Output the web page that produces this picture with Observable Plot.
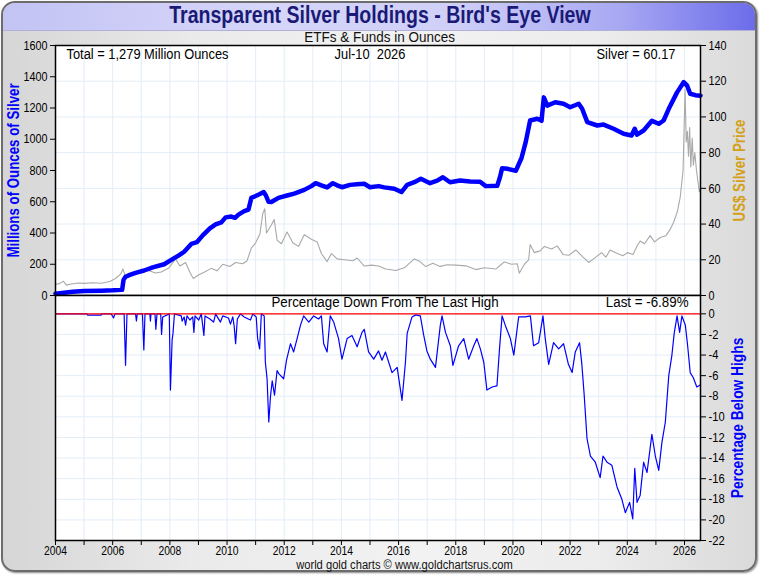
<!DOCTYPE html>
<html>
<head>
<meta charset="utf-8">
<script src="https://cdn.jsdelivr.net/npm/d3@7"></script>
<script src="https://cdn.jsdelivr.net/npm/@observablehq/plot@0.6"></script>
<style>
  html, body { margin: 0; padding: 0; background: #ffffff; }
  body { position: relative; width: 760px; height: 575px; overflow: hidden; font-family: "Liberation Sans", Arial, sans-serif; }
  #frame { position: absolute; left: 1px; top: 1px; width: 752px; height: 567px; border: 2px solid #6c6c6c; border-radius: 14px; overflow: hidden;
           background: linear-gradient(to right, #d6d6d6 0%, #eaeaea 25%, #f2f2f2 55%, #ececec 80%, #dadada 100%);
           box-shadow: 1px 1px 2px #888; }
  #titlebar { position: absolute; left: 0; top: 0; width: 100%; height: 27px;
              background: linear-gradient(to right, #c3c3f4 0%, #d6d6fa 35%, #cfcff8 60%, #a8a8f3 82%, #6c6cea 100%);
              border-bottom: 1px solid #b0b0d8; }
  .row { position: absolute; left: 0; width: 760px; text-align: center; white-space: pre; }
  .row span { display: inline-block; transform-origin: center center; }
  #title { top: 2px; font-weight: bold; font-size: 23px; line-height: 27px; color: #1a1a76; }
  #title span { transform: scaleX(0.85); }
  #subtitle { top: 30px; font-size: 15.5px; line-height: 14px; color: #111; }
  #subtitle span { transform: scaleX(0.87); }
  #footer { left: 48px; width: 712px; top: 559px; font-size: 12px; line-height: 12px; color: #111; }
  #footer span { transform: scaleX(0.93); }
  #topchart { position: absolute; left: 0; top: 30px; }
  #botchart { position: absolute; left: 0; top: 295px; }
</style>
</head>
<body>
<div id="frame"><div id="titlebar"></div></div>
<div class="row" id="title"><span></span></div>
<div class="row" id="subtitle"><span></span></div>
<div id="topchart"></div>
<div id="botchart"></div>
<div class="row" id="footer"><span></span></div>
<script>
// ---------- texts ----------
const titleText = "Transparent Silver Holdings - Bird's Eye View";
const subtitleText = "ETFs & Funds in Ounces";
const footerText = "world gold charts \u00a9 www.goldchartsrus.com";
const totalText = "Total = 1,279 Million Ounces";
const dateText = "Jul-10\u00a0 2026";
const silverText = "Silver = 60.17";
const lowerTitle = "Percentage Down From The Last High";
const lastText = "Last = -6.89%";
const leftLabel = "Millions of Ounces of Silver";
const priceLabel = "US$ Silver Price";
const pctLabel = "Percentage Below Highs";

// ---------- ticks ----------
const yearTicks = [2004,2005,2006,2007,2008,2009,2010,2011,2012,2013,2014,2015,2016,2017,2018,2019,2020,2021,2022,2023,2024,2025,2026];
const holdTicks = [0,200,400,600,800,1000,1200,1400,1600];
const priceTicks = [0,20,40,60,80,100,120,140];
const pctTicks = [0,-2,-4,-6,-8,-10,-12,-14,-16,-18,-20,-22];

// ---------- holdings (million oz) ----------
const holdYears = [2004.00,2004.30,2004.60,2005.00,2005.60,2006.00,2006.33,2006.38,2006.45,2006.60,2006.80,2007.10,2007.40,2007.80,2008.05,2008.30,2008.50,2008.75,2008.95,2009.15,2009.40,2009.60,2009.80,2009.95,2010.15,2010.28,2010.40,2010.60,2010.75,2010.85,2011.00,2011.15,2011.28,2011.36,2011.45,2011.55,2011.80,2012.10,2012.35,2012.70,2012.95,2013.10,2013.30,2013.50,2013.70,2013.85,2014.02,2014.30,2014.55,2014.80,2015.00,2015.30,2015.50,2015.85,2016.10,2016.30,2016.55,2016.78,2017.10,2017.35,2017.55,2017.80,2018.15,2018.50,2018.85,2019.05,2019.45,2019.55,2019.62,2019.80,2020.10,2020.30,2020.45,2020.60,2020.85,2021.00,2021.08,2021.20,2021.48,2021.77,2022.00,2022.30,2022.42,2022.60,2022.95,2023.17,2023.52,2023.87,2024.15,2024.26,2024.34,2024.57,2024.86,2025.10,2025.27,2025.45,2025.74,2025.97,2026.09,2026.20,2026.38,2026.56];
const holdOunces = [11,17,24,29,31,33,36,100,120,132,145,160,180,200,228,255,280,330,342,385,430,455,468,500,505,497,518,540,550,625,637,650,662,640,600,598,625,640,652,676,700,719,705,692,719,705,693,708,712,715,693,700,692,683,662,708,725,747,719,735,757,725,736,730,728,700,702,760,815,811,798,880,985,1120,1131,1118,1268,1215,1237,1227,1205,1227,1195,1110,1088,1094,1067,1035,1024,1067,1030,1056,1118,1099,1120,1195,1300,1365,1344,1291,1282,1279];

// ---------- silver price (US$) ----------
const priceYears = [2004.00,2004.15,2004.28,2004.38,2004.55,2004.80,2005.00,2005.30,2005.60,2005.90,2006.10,2006.28,2006.36,2006.45,2006.60,2006.80,2007.00,2007.20,2007.50,2007.70,2007.95,2008.20,2008.35,2008.55,2008.70,2008.82,2009.00,2009.20,2009.45,2009.65,2009.85,2010.10,2010.30,2010.55,2010.70,2010.85,2011.00,2011.15,2011.25,2011.32,2011.38,2011.55,2011.65,2011.75,2011.90,2012.10,2012.30,2012.50,2012.70,2012.95,2013.15,2013.30,2013.50,2013.65,2013.85,2014.10,2014.40,2014.55,2014.80,2015.05,2015.30,2015.55,2015.90,2016.20,2016.55,2016.75,2016.95,2017.20,2017.45,2017.70,2018.00,2018.35,2018.70,2019.00,2019.40,2019.60,2019.70,2019.95,2020.15,2020.22,2020.40,2020.55,2020.60,2020.75,2020.95,2021.10,2021.35,2021.55,2021.75,2021.95,2022.20,2022.45,2022.65,2022.90,2023.10,2023.25,2023.40,2023.65,2023.85,2024.00,2024.20,2024.35,2024.45,2024.60,2024.80,2024.95,2025.15,2025.35,2025.50,2025.62,2025.75,2025.85,2025.95,2026.02,2026.06,2026.10,2026.14,2026.18,2026.22,2026.27,2026.31,2026.36,2026.42,2026.47,2026.52,2026.56];
const priceUSD = [6.2,6.8,8.0,5.8,6.4,7.0,6.8,7.1,6.9,7.8,9.5,12.0,14.8,10.5,11.3,13.0,13.2,14.3,12.6,13.2,15.2,20.5,16.5,18.5,13.0,9.5,11.5,13.0,15.2,13.8,17.5,16.2,18.5,17.8,19.5,26.5,29.5,34.5,46.0,48.6,35.0,39.5,42.5,31.0,29.0,35.5,29.5,27.5,34.0,31.5,30.0,23.5,19.0,23.5,20.5,20.0,19.5,21.0,16.5,17.0,16.5,14.8,14.0,15.5,20.5,19.0,16.2,18.0,16.3,17.2,17.0,16.6,14.5,15.5,14.8,17.5,18.8,17.5,17.8,12.5,17.5,20.0,28.5,24.0,25.0,27.5,26.0,27.8,23.0,22.5,25.5,21.5,18.5,21.5,24.0,21.5,25.5,23.5,22.3,24.0,23.0,28.0,30.5,29.0,33.5,30.0,32.5,33.5,37.0,41.0,47.0,55.0,70.0,115.5,86.0,92.0,78.0,94.0,72.0,88.0,73.0,80.0,70.0,64.0,58.0,60.2];

// ---------- percentage below highs ----------
const pctYears = [2004.00,2005.10,2005.12,2005.60,2005.62,2005.95,2006.03,2006.08,2006.40,2006.45,2006.50,2006.80,2006.83,2006.86,2007.04,2007.09,2007.13,2007.30,2007.32,2007.34,2007.48,2007.51,2007.55,2007.68,2007.71,2007.75,2007.98,2008.02,2008.08,2008.11,2008.16,2008.40,2008.43,2008.50,2008.55,2008.60,2008.70,2008.80,2008.84,2008.88,2009.01,2009.10,2009.19,2009.23,2009.40,2009.53,2009.60,2009.77,2009.85,2010.05,2010.12,2010.20,2010.25,2010.30,2010.36,2010.47,2010.60,2010.82,2010.90,2011.02,2011.07,2011.14,2011.20,2011.30,2011.34,2011.40,2011.46,2011.52,2011.58,2011.66,2011.75,2011.81,2011.98,2012.08,2012.22,2012.33,2012.45,2012.57,2012.68,2012.86,2013.03,2013.20,2013.30,2013.38,2013.50,2013.61,2013.73,2013.90,2014.02,2014.20,2014.37,2014.55,2014.72,2014.80,2014.95,2015.13,2015.30,2015.42,2015.54,2015.77,2015.95,2016.12,2016.24,2016.30,2016.47,2016.60,2016.76,2016.88,2016.99,2017.11,2017.29,2017.46,2017.52,2017.64,2017.81,2017.90,2018.10,2018.28,2018.45,2018.63,2018.74,2018.86,2018.98,2019.09,2019.27,2019.44,2019.53,2019.62,2019.73,2019.91,2020.03,2020.20,2020.43,2020.61,2020.72,2020.90,2021.05,2021.13,2021.25,2021.42,2021.60,2021.77,2021.94,2022.07,2022.18,2022.33,2022.41,2022.49,2022.59,2022.71,2022.88,2023.05,2023.15,2023.29,2023.46,2023.64,2023.81,2023.93,2024.08,2024.19,2024.26,2024.34,2024.45,2024.57,2024.69,2024.86,2024.98,2025.10,2025.21,2025.33,2025.45,2025.56,2025.64,2025.74,2025.83,2025.91,2026.03,2026.11,2026.20,2026.31,2026.43,2026.49,2026.56];
const pctBelowHigh = [0,0,-0.12,-0.12,0,0,-0.4,0,0,-5.0,0,0,-0.7,0,0,-3.5,0,0,-0.7,0,0,-1.5,0,0,-2.0,-0.3,0,-7.4,-2.5,-1.9,0,-0.2,-0.7,-0.3,-1.1,-0.2,-0.6,-0.3,-1.8,-0.2,-0.6,0,-2.1,-0.2,-0.5,-0.8,0,-0.8,-0.2,-0.4,-1.0,-0.3,-1.2,-2.9,-0.5,0,-0.3,-0.6,0,-0.3,-2.4,-3.4,0,-0.2,-4.7,-6.3,-10.5,-8.0,-6.5,-7.9,-5.5,-5.8,-6.3,-4.5,-2.9,-3.7,-2.4,-1.1,-0.2,-0.8,-0.2,-0.5,-0.2,-2.9,-3.7,-0.2,-0.8,-2.4,-4.4,-2.4,-2.1,-3.2,-1.8,-1.5,-3.7,-4.4,-3.6,-4.5,-3.7,-5.7,-5.2,-8.4,-4.7,-1.9,-0.3,-0.1,-0.2,-2.1,-3.6,-4.4,-5.2,-1.1,-0.2,-1.8,-3.1,-5.0,-3.1,-2.4,-4.4,-3.1,-2.4,-3.4,-4.7,-7.4,-7.1,-7.0,-3.4,-0.2,-1.1,-2.4,-4.0,-0.3,-0.3,-0.2,-3.1,-2.8,-0.2,-2.4,-4.9,-2.8,-3.4,-2.9,-4.9,-5.7,-3.7,-2.8,-4.9,-7.8,-12.1,-13.8,-14.4,-15.9,-13.8,-14.4,-14.7,-16.8,-18.0,-19.3,-18.3,-19.9,-15.0,-18.3,-17.6,-14.4,-15.4,-11.7,-13.8,-15.2,-12.5,-10.5,-6.0,-4.0,-1.9,-0.2,-1.8,-0.2,-1.1,-3.1,-5.7,-6.2,-7.1,-7.0,-6.89];

// ---------- build ----------
const FONT = '"Liberation Sans", Arial, sans-serif';
const xDomain = [2004, 2026.56];
const k = 1600 / 140; // price -> holdings axis
const gridColor = "#e2edf8";

const holdRows = holdYears.map((y, i) => ({year: y, oz: holdOunces[i]}));
const priceRows = priceYears.map((y, i) => ({year: y, scaled: priceUSD[i] * k}));
const pctRows = pctYears.map((y, i) => ({year: y, pct: pctBelowHigh[i]}));

document.querySelector("#title span").textContent = titleText;
document.querySelector("#subtitle span").textContent = subtitleText;
document.querySelector("#footer span").textContent = footerText;

// condensed look: squeeze each svg text horizontally (the reference uses a narrow face)
function narrow(svg, f) {
  svg.querySelectorAll("text").forEach(t => {
    const L = t.getComputedTextLength();
    if (L > 0) {
      t.setAttribute("textLength", (L * f).toFixed(2));
      t.setAttribute("lengthAdjust", "spacingAndGlyphs");
    }
  });
}

const topPlot = Plot.plot({
  width: 760, height: 265,
  marginLeft: 55, marginRight: 60, marginTop: 15, marginBottom: 0,
  style: {background: "transparent", fontFamily: FONT, fontSize: "13px", overflow: "visible", color: "#000"},
  x: {domain: xDomain, axis: null},
  y: {domain: [0, 1600]},
  marks: [
    Plot.frame({fill: "white", stroke: "none"}),
    Plot.gridX(yearTicks, {stroke: gridColor, strokeOpacity: 1}),
    Plot.gridY(priceTicks.map(p => p * k), {stroke: gridColor, strokeOpacity: 1}),
    Plot.line(priceRows, {x: "year", y: "scaled", stroke: "#a9a9a9", strokeWidth: 1.1}),
    Plot.line(holdRows, {x: "year", y: "oz", stroke: "#0000ff", strokeWidth: 4.5}),
    Plot.axisY({anchor: "left", ticks: holdTicks, tickFormat: d => String(d), tickSize: 5, tickPadding: 3, label: null, fontSize: 13}),
    Plot.axisY({anchor: "right", ticks: priceTicks.map(p => p * k), tickFormat: d => String(Math.round(d / k)), tickSize: 5, tickPadding: 3, label: null, fontSize: 13}),
    Plot.frame({stroke: "black", strokeWidth: 1.5}),
    Plot.text([totalText], {text: d => d, frameAnchor: "top-left", dx: 11, dy: 2, fontSize: 15.5, fill: "black"}),
    Plot.text([dateText], {text: d => d, frameAnchor: "top", dx: -8, dy: 2, fontSize: 15.5, fill: "black"}),
    Plot.text([silverText], {text: d => d, frameAnchor: "top-right", dx: -25, dy: 2, fontSize: 15.5, fill: "black"}),
    Plot.text([leftLabel], {text: d => d, frameAnchor: "left", dx: -42, rotate: -90, textAnchor: "middle", lineAnchor: "middle", fontSize: 16, fontWeight: "bold", fill: "#0000ff"}),
    Plot.text([priceLabel], {text: d => d, frameAnchor: "right", dx: 39, rotate: -90, textAnchor: "middle", lineAnchor: "middle", fontSize: 16, fontWeight: "bold", fill: "#d4a017"})
  ]
});
document.getElementById("topchart").appendChild(topPlot);
narrow(topPlot, 0.83);

const botPlot = Plot.plot({
  width: 760, height: 265,
  marginLeft: 55, marginRight: 60, marginTop: 0, marginBottom: 20,
  style: {background: "transparent", fontFamily: FONT, fontSize: "13px", overflow: "visible", color: "#000"},
  x: {domain: xDomain},
  y: {domain: [-22, 1.78]},
  marks: [
    Plot.frame({fill: "white", stroke: "none"}),
    Plot.gridX(yearTicks, {stroke: gridColor, strokeOpacity: 1}),
    Plot.gridY(pctTicks, {stroke: gridColor, strokeOpacity: 1}),
    Plot.line(pctRows, {x: "year", y: "pct", stroke: "#0000ff", strokeWidth: 1.2}),
    Plot.ruleY([0], {stroke: "#ff0000", strokeWidth: 1.3}),
    Plot.axisY({anchor: "right", ticks: pctTicks, tickFormat: d => String(d), tickSize: 5, tickPadding: 3, label: null, fontSize: 13}),
    Plot.axisX({ticks: yearTicks, tickFormat: d => (d % 2 === 0 ? String(d) : ""), tickSize: 5, tickPadding: 1, label: null, fontSize: 12}),
    Plot.frame({stroke: "black", strokeWidth: 1.5}),
    Plot.text([lowerTitle], {text: d => d, frameAnchor: "top", dx: 7, dy: 0, fontSize: 15.5, fill: "black"}),
    Plot.text([lastText], {text: d => d, frameAnchor: "top-right", dx: -12, dy: 0, fontSize: 15.5, fill: "black"}),
    Plot.text([pctLabel], {text: d => d, frameAnchor: "right", dx: 37, rotate: -90, textAnchor: "middle", lineAnchor: "middle", fontSize: 16, fontWeight: "bold", fill: "#0000ff"})
  ]
});
document.getElementById("botchart").appendChild(botPlot);
narrow(botPlot, 0.86);
</script>
</body>
</html>
